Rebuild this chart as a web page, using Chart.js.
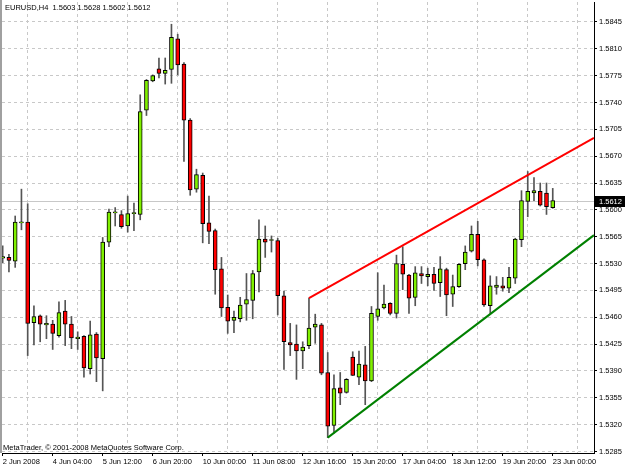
<!DOCTYPE html>
<html>
<head>
<meta charset="utf-8">
<script src="https://cdn.jsdelivr.net/npm/chart.js@4.4.1/dist/chart.umd.min.js"></script>
<style>
  html, body { margin: 0; padding: 0; background: #fff; }
  canvas { display: block; }
</style>
</head>
<body>
<canvas id="chart" width="625" height="469"></canvas>
<script>
// EURUSD H4 bars
const opens  = [1.5537,1.5538,1.5533,1.5583,1.5584,1.5453,1.5462,1.5450,1.5451,1.5436,
                1.5468,1.5451,1.5432,1.5435,1.5393,1.5438,1.5406,1.5558,1.5596,1.5594,
                1.5579,1.5595,1.5594,1.5730,1.5768,1.5784,1.5778,1.5783,1.5823,1.5790,
                1.5717,1.5627,1.5645,1.5583,1.5573,1.5523,1.5473,1.5456,1.5458,1.5477,
                1.5482,1.5519,1.5562,1.5560,1.5560,1.5488,1.5427,1.5425,1.5416,1.5423,
                1.5447,1.5450,1.5388,1.5319,1.5368,1.5362,1.5408,1.5382,1.5398,1.5377,
                1.5461,1.5472,1.5478,1.5465,1.5529,1.5515,1.5486,1.5517,1.5513,1.5516,
                1.5505,1.5522,1.5490,1.5500,1.5530,1.5546,1.5568,1.5535,1.5475,1.5499,
                1.5501,1.5498,1.5511,1.5561,1.5611,1.5622,1.5624,1.5622,1.5603];
const highs  = [1.5553,1.5542,1.5592,1.5627,1.5608,1.5475,1.5463,1.5462,1.5456,1.5480,
                1.5482,1.5461,1.5441,1.5436,1.5455,1.5440,1.5564,1.5601,1.5603,1.5599,
                1.5618,1.5609,1.5750,1.5770,1.5776,1.5798,1.5798,1.5842,1.5829,1.5792,
                1.5719,1.5653,1.5648,1.5618,1.5575,1.5538,1.5489,1.5468,1.5486,1.5517,
                1.5521,1.5587,1.5579,1.5566,1.5563,1.5494,1.5452,1.5450,1.5428,1.5485,
                1.5464,1.5452,1.5414,1.5385,1.5388,1.5380,1.5415,1.5416,1.5422,1.5474,
                1.5518,1.5502,1.5479,1.5541,1.5552,1.5516,1.5526,1.5526,1.5524,1.5525,
                1.5539,1.5524,1.5515,1.5530,1.5553,1.5579,1.5585,1.5536,1.5514,1.5513,
                1.5512,1.5525,1.5563,1.5625,1.5650,1.5642,1.5635,1.5635,1.5628];
const lows   = [1.5531,1.5519,1.5525,1.5574,1.5410,1.5424,1.5428,1.5432,1.5418,1.5434,
                1.5423,1.5419,1.5418,1.5382,1.5386,1.5376,1.5364,1.5552,1.5579,1.5576,
                1.5571,1.5573,1.5587,1.5723,1.5767,1.5772,1.5764,1.5765,1.5776,1.5663,
                1.5619,1.5623,1.5557,1.5556,1.5490,1.5461,1.5439,1.5440,1.5454,1.5456,
                1.5458,1.5493,1.5538,1.5545,1.5463,1.5392,1.5410,1.5379,1.5393,1.5419,
                1.5426,1.5385,1.5303,1.5309,1.5346,1.5361,1.5384,1.5372,1.5346,1.5376,
                1.5456,1.5471,1.5463,1.5459,1.5496,1.5465,1.5475,1.5504,1.5501,1.5495,
                1.5487,1.5462,1.5474,1.5499,1.5522,1.5545,1.5527,1.5474,1.5465,1.5490,
                1.5494,1.5492,1.5504,1.5552,1.5591,1.5612,1.5605,1.5594,1.5602];
const closes = [1.5539,1.5534,1.5584,1.5583,1.5452,1.5461,1.5451,1.5452,1.5439,1.5466,
                1.5451,1.5433,1.5434,1.5394,1.5437,1.5407,1.5558,1.5597,1.5596,1.5578,
                1.5595,1.5595,1.5728,1.5769,1.5775,1.5778,1.5782,1.5825,1.5789,1.5717,
                1.5626,1.5646,1.5582,1.5572,1.5522,1.5472,1.5455,1.5460,1.5476,1.5483,
                1.5517,1.5562,1.5558,1.5560,1.5488,1.5428,1.5424,1.5416,1.5421,1.5446,
                1.5451,1.5387,1.5318,1.5367,1.5361,1.5379,1.5384,1.5399,1.5377,1.5465,
                1.5471,1.5477,1.5465,1.5530,1.5516,1.5485,1.5518,1.5514,1.5516,1.5504,
                1.5523,1.5489,1.5500,1.5529,1.5545,1.5568,1.5535,1.5476,1.5501,1.5502,
                1.5498,1.5512,1.5562,1.5612,1.5624,1.5625,1.5606,1.5604,1.5612];

// time labels, one every 8 bars
const timeLabels = ['2 Jun 2008', '4 Jun 04:00', '5 Jun 12:00', '6 Jun 20:00', '10 Jun 00:00', '11 Jun 08:00',
                    '12 Jun 16:00', '15 Jun 20:00', '17 Jun 04:00', '18 Jun 12:00', '19 Jun 20:00', '23 Jun 00:00'];
const priceTicks = [1.5285, 1.5320, 1.5355, 1.5390, 1.5425, 1.5460, 1.5495, 1.5530, 1.5565,
                    1.5600, 1.5635, 1.5670, 1.5705, 1.5740, 1.5775, 1.5810, 1.5845];

// trend lines: [bar, price]
const resistanceLine = [[49, 1.5485], [94.6, 1.5694]];
const supportLine    = [[52, 1.5303], [94.6, 1.5567]];

const BULL = '#80f000';
const BEAR = '#ff0000';
const FONT = { family: 'Liberation Sans', size: 7.5 };

const bodies = opens.map((o, i) => ({ x: i, y: [o, closes[i]] }));
const wicks = lows.map((l, i) => ({ x: i, y: [l, highs[i]] }));
const last = opens.length - 1;

const overlay = {
    id: 'overlay',
    beforeDatasetsDraw(chart) {
        const { ctx, chartArea, scales: { y } } = chart;
        const py = Math.round(y.getPixelForValue(closes[last])) + 0.5;
        ctx.save();
        ctx.strokeStyle = '#c8c8c8';
        ctx.lineWidth = 1;
        ctx.beginPath();
        ctx.moveTo(chartArea.left, py);
        ctx.lineTo(chartArea.right, py);
        ctx.stroke();
        ctx.restore();
    },
    afterDraw(chart) {
        const { ctx, chartArea, scales: { y } } = chart;
        ctx.save();
        // left frame
        ctx.fillStyle = '#a0a0a0';
        ctx.fillRect(0, 0, 2, chartArea.bottom);

        ctx.font = FONT.size + 'px ' + FONT.family;
        ctx.fillStyle = '#000';
        ctx.textBaseline = 'middle';
        ctx.textAlign = 'left';
        const title = 'EURUSD,H4  ' + [opens[last], highs[last], lows[last], closes[last]].map(v => v.toFixed(4)).join(' ');
        ctx.fillText(title, 5, 8);
        ctx.fillText('MetaTrader, \u00a9 2001-2008 MetaQuotes Software Corp.', 3, 448);

        // current price box on the axis
        const py = Math.round(y.getPixelForValue(closes[last]));
        ctx.fillStyle = '#000';
        ctx.fillRect(chartArea.right + 1, py - 5, 30, 11);
        ctx.fillStyle = '#fff';
        ctx.fillText(closes[last].toFixed(4), chartArea.right + 5, py + 0.5);
        ctx.restore();
    }
};

new Chart(document.getElementById('chart'), {
    type: 'bar',
    data: {
        datasets: [
            {
                type: 'line',
                data: resistanceLine.map(p => ({ x: p[0], y: p[1] })),
                borderColor: '#ff0000',
                borderWidth: 2,
                pointRadius: 0,
                order: -2
            },
            {
                type: 'line',
                data: supportLine.map(p => ({ x: p[0], y: p[1] })),
                borderColor: '#008000',
                borderWidth: 2,
                pointRadius: 0,
                order: -1
            },
            {
                data: bodies,
                grouped: false,
                barThickness: 4,
                minBarLength: 1,
                borderWidth: 1,
                borderSkipped: false,
                borderColor: '#000',
                backgroundColor: ctx => closes[ctx.dataIndex] >= opens[ctx.dataIndex] ? BULL : BEAR,
                order: 0
            },
            {
                data: wicks,
                grouped: false,
                barThickness: 1,
                backgroundColor: '#555',
                borderWidth: 0,
                order: 1
            }
        ]
    },
    options: {
        responsive: false,
        devicePixelRatio: 1,
        animation: false,
        layout: { padding: { top: 2, left: 2, right: 0, bottom: 0 } },
        plugins: {
            legend: { display: false },
            tooltip: { enabled: false }
        },
        scales: {
            x: {
                type: 'linear',
                offset: false,
                min: -0.11,
                max: 94.6,
                afterBuildTicks: axis => {
                    const t = [];
                    for (let k = 0; k <= 92; k += 4) t.push({ value: k });
                    axis.ticks = t;
                },
                afterFit: axis => {
                    axis.height = 16;
                    axis.paddingLeft = 0;
                    axis.paddingRight = 0;
                },
                ticks: {
                    autoSkip: false,
                    maxRotation: 0,
                    align: 'start',
                    padding: 1,
                    color: '#000',
                    font: FONT,
                    callback: v => (v % 8 === 0 ? timeLabels[v / 8] || '' : '')
                },
                grid: {
                    offset: false,
                    color: c => (c.tick && c.tick.value % 8 === 4 ? '#c8c8c8' : 'rgba(0,0,0,0)'),
                    tickColor: c => (c.tick && c.tick.value % 8 === 0 ? '#000' : 'rgba(0,0,0,0)'),
                    tickLength: 3
                },
                border: { display: true, color: '#000', width: 1, dash: [3, 3] }
            },
            y: {
                position: 'right',
                min: 1.5283,
                max: 1.5871,
                afterBuildTicks: axis => { axis.ticks = priceTicks.map(v => ({ value: v })); },
                afterFit: axis => {
                    axis.width = 31;
                    axis.paddingTop = 0;
                    axis.paddingBottom = 0;
                },
                ticks: {
                    padding: 2,
                    color: '#000',
                    font: FONT,
                    callback: v => v.toFixed(4)
                },
                grid: {
                    color: '#c8c8c8',
                    tickColor: '#000',
                    tickLength: 3
                },
                border: { display: true, color: '#000', width: 1, dash: [3, 3] }
            }
        }
    },
    plugins: [overlay]
});
</script>
</body>
</html>
